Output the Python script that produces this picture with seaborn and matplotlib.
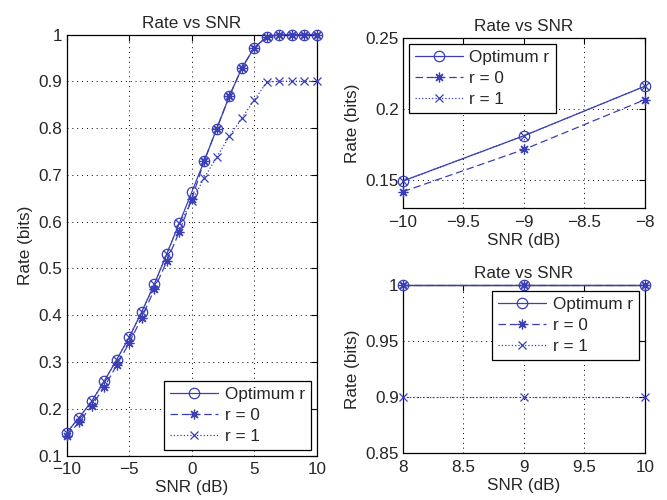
import matplotlib
matplotlib.use("Agg")
import matplotlib.pyplot as plt
import seaborn as sns
import numpy as np
from matplotlib.ticker import FuncFormatter, MultipleLocator

# data
snr = [-10, -9, -8, -7, -6, -5, -4, -3, -2, -1, 0, 1, 2, 3, 4, 5, 6, 7, 8, 9, 10]
rate_opt = [0.149, 0.181, 0.216, 0.259, 0.305, 0.353, 0.407, 0.466, 0.531, 0.596, 0.663,
            0.730, 0.799, 0.868, 0.928, 0.972, 0.995, 1.0, 1.0, 1.0, 1.0]
rate_r0 = [0.1415, 0.1713, 0.2065, 0.246, 0.293, 0.341, 0.394, 0.455, 0.515, 0.578, 0.648,
           0.730, 0.799, 0.868, 0.928, 0.972, 0.995, 1.0, 1.0, 1.0, 1.0]
rate_r1 = [0.149, 0.181, 0.216, 0.259, 0.305, 0.353, 0.407, 0.466, 0.531, 0.596, 0.643,
           0.694, 0.738, 0.782, 0.821, 0.860, 0.898, 0.9, 0.9, 0.9, 0.9]
labels = ["Optimum r", "r = 0", "r = 1"]

sns.set_style("white")
plt.rcParams['font.family'] = ['Liberation Sans', 'DejaVu Sans']
plt.rcParams['axes.unicode_minus'] = True

blue = '#3a3fb5'
fs = 12.3
styles = [
    dict(marker='o', linestyle='-', markersize=7.5),
    dict(marker=(8, 2, 0), linestyle=(0, (6, 3)), markersize=7),
    dict(marker='x', linestyle=':', markersize=5.5),
]

fmt = FuncFormatter(lambda v, p: ('%g' % round(v, 4)).replace('-', '\u2212'))


def draw(ax, xmin, xmax, ylim, ystep, xstep, legend_loc):
    x = np.array(snr)
    keep = (x >= xmin) & (x <= xmax)
    for vals, st in zip([rate_opt, rate_r0, rate_r1], styles):
        y = np.array(vals)
        sns.lineplot(x=x[keep], y=y[keep], ax=ax, color=blue, linewidth=0.9,
                     markerfacecolor='none', markeredgecolor=blue, markeredgewidth=0.9,
                     clip_on=False, zorder=3, **st)
    ax.set_xlim(xmin, xmax)
    ax.set_ylim(*ylim)
    ax.xaxis.set_major_locator(MultipleLocator(xstep))
    ax.yaxis.set_major_locator(MultipleLocator(ystep))
    ax.xaxis.set_major_formatter(fmt)
    ax.yaxis.set_major_formatter(fmt)
    ax.grid(True, linestyle=(0, (1, 4)), color='black', linewidth=0.7)
    ax.tick_params(direction='in', top=True, right=True, length=4, width=0.8,
                   labelsize=fs, pad=3, color='black')
    ax.tick_params(axis='x', pad=5)
    for s in ax.spines.values():
        s.set_color('black')
        s.set_linewidth(0.9)
    ax.set_title("Rate vs SNR", fontsize=fs, pad=5)
    ax.set_xlabel("SNR (dB)", fontsize=fs, labelpad=2)
    ax.set_ylabel("Rate (bits)", fontsize=fs, labelpad=4)
    leg = ax.legend(ax.get_lines()[:3], labels, loc=legend_loc, fontsize=fs,
                    fancybox=False, edgecolor='black', framealpha=1,
                    handlelength=2.8, labelspacing=0.35, borderaxespad=0.35,
                    borderpad=0.35, handletextpad=0.4, numpoints=1)
    leg.get_frame().set_linewidth(0.9)


fig = plt.figure(figsize=(6.67, 5), dpi=100)
ax_left = fig.add_axes([0.100, 0.089, 0.375, 0.842])
ax_tr = fig.add_axes([0.604, 0.584, 0.363, 0.340])
ax_br = fig.add_axes([0.604, 0.094, 0.363, 0.336])

draw(ax_left, -10, 10, (0.1, 1.0), 0.1, 5, 'lower right')
draw(ax_tr, -10, -8, (0.13, 0.25), 0.05, 0.5, 'upper left')
draw(ax_br, 8, 10, (0.85, 1.0), 0.05, 0.5, 'upper right')

fig.savefig("out.png", dpi=100)
